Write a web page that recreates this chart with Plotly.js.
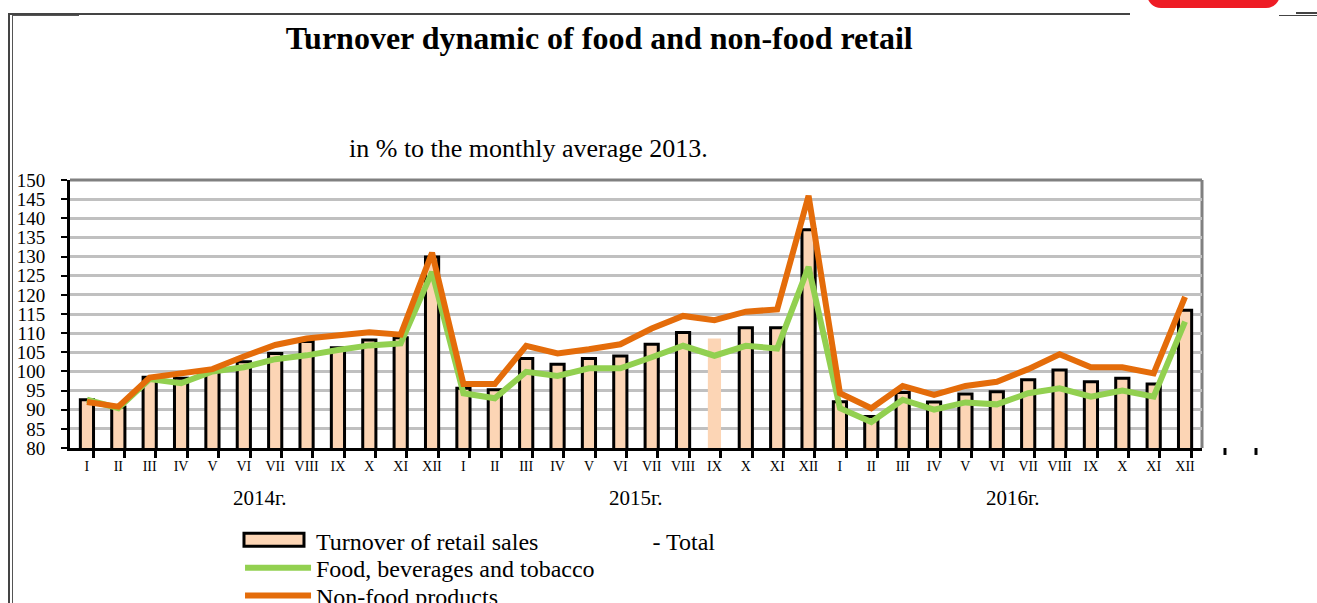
<!DOCTYPE html>
<html>
<head>
<meta charset="utf-8">
<script src="https://cdn.plot.ly/plotly-3.0.1.min.js"></script>
<style>
  html, body { margin: 0; padding: 0; background: #fff; }
  #chart { position: absolute; left: 0; top: 0; width: 1317px; height: 603px; }
  .deco { position: absolute; pointer-events: none; z-index: 10; }
</style>
</head>
<body>
<div id="chart"></div>
<div class="deco" style="left:8px;top:13px;width:2px;height:600px;background:#444;"></div>
<div class="deco" style="left:12px;top:15px;width:1px;height:600px;background:#555;"></div>
<div class="deco" style="left:8px;top:13px;width:1122px;height:2px;background:#444;"></div>
<div class="deco" style="left:12px;top:15px;width:67px;height:1px;background:#555;"></div>
<div class="deco" style="left:1279px;top:15px;width:38px;height:1px;background:#444;"></div>
<div class="deco" style="left:1296px;top:12px;width:21px;height:2px;background:#444;"></div>
<div class="deco" style="left:1147px;top:-20px;width:133px;height:28px;background:#EE1C25;border-radius:14px;"></div>
<script>
// ---- data ----
const months = ["I","II","III","IV","V","VI","VII","VIII","IX","X","XI","XII",
                "I","II","III","IV","V","VI","VII","VIII","IX","X","XI","XII",
                "I","II","III","IV","V","VI","VII","VIII","IX","X","XI","XII"];
const years = ["2014г.", "2015г.", "2016г."];

const totalTurnover = [
  92.6, 90.7, 98.5, 98.2, 100.0, 102.5, 104.7, 107.8, 106.2, 108.2, 108.8, 129.9,
  95.6, 95.2, 103.4, 101.9, 103.4, 104.0, 107.1, 110.2, 108.6, 111.4, 111.4, 137.0,
  92.1, 88.2, 94.5, 92.0, 94.1, 94.7, 97.8, 100.4, 97.3, 98.2, 96.7, 116.0
];
const foodBeverages = [
  92.6, 90.4, 98.0, 96.9, 100.0, 101.1, 103.2, 104.2, 105.6, 106.8, 107.3, 126.0,
  94.3, 93.0, 99.9, 98.8, 100.8, 100.8, 103.7, 106.7, 104.1, 106.7, 106.0, 127.3,
  90.4, 86.8, 92.6, 90.0, 91.9, 91.4, 94.3, 95.6, 93.4, 95.0, 93.4, 113.0
];
const nonFood = [
  92.0, 90.8, 98.4, 99.5, 100.6, 103.9, 106.9, 108.6, 109.3, 110.2, 109.6, 131.0,
  96.7, 96.7, 106.7, 104.7, 105.8, 107.1, 111.2, 114.5, 113.4, 115.6, 116.2, 145.9,
  94.3, 90.4, 96.2, 93.9, 96.2, 97.3, 100.6, 104.5, 101.1, 101.1, 99.5, 119.5
];
const seriesNames = ["Turnover of retail sales" + "\u00A0".repeat(19) + "- Total",
                     "Food, beverages and tobacco",
                     "Non-food products"];

// ---- build ----
const idx = months.map((m, i) => i);
const barOutline = months.map((m, i) => (i === 20 ? 0 : 3)); // IX 2015 drawn without outline

const serif = "'Liberation Serif', 'Times New Roman', serif";
const barFill = "#FCD5B5";

const traces = [
  {
    type: "bar", x: idx, y: totalTurnover, name: seriesNames[0], width: 0.42,
    marker: { color: barFill, line: { color: "#000", width: barOutline } },
    showlegend: false
  },
  // legend entry for the bars; its wide key box is drawn as a shape below
  {
    type: "scatter", mode: "lines", x: [null], y: [null], name: seriesNames[0],
    line: { color: "rgba(0,0,0,0)", width: 0 }, legend: "legend", showlegend: true,
    hoverinfo: "skip"
  },
  {
    type: "scatter", mode: "lines", x: idx, y: foodBeverages, name: seriesNames[1],
    line: { color: "#92D050", width: 6 }, legend: "legend2"
  },
  {
    type: "scatter", mode: "lines", x: idx, y: nonFood, name: seriesNames[2],
    line: { color: "#E46C0A", width: 6 }, legend: "legend3"
  }
];

const annotations = years.map((y, k) => ({
  text: y, xref: "x", yref: "paper", x: 5.5 + 12 * k, y: -0.187,
  xanchor: "center", yanchor: "middle", showarrow: false,
  font: { family: serif, size: 21, color: "#000" }
}));
annotations.push({
  text: "in % to the monthly average 2013.", xref: "paper", yref: "paper",
  x: 0.4046, y: 1.119, xanchor: "center", yanchor: "middle", showarrow: false,
  font: { family: serif, size: 26, color: "#000" }
});

function legendAt(yPaper) {
  return {
    x: 0.1502, y: yPaper, xanchor: "left", yanchor: "middle",
    orientation: "v", itemwidth: 66,
    font: { family: serif, size: 24, color: "#000" },
    bgcolor: "rgba(0,0,0,0)", borderwidth: 0
  };
}

const layout = {
  width: 1317, height: 603,
  margin: { l: 70, r: 115, t: 180, b: 155, pad: 0, autoexpand: false },
  paper_bgcolor: "#fff", plot_bgcolor: "#fff",
  font: { family: serif, color: "#000" },
  title: {
    text: "<b>Turnover dynamic of food and non-food retail</b>",
    xref: "container", yref: "container", x: 0.455, y: 0.937,
    xanchor: "center", yanchor: "middle",
    font: { family: serif, size: 32, color: "#000" }
  },
  showlegend: true,
  legend: legendAt(-0.347),
  legend2: legendAt(-0.448),
  legend3: legendAt(-0.552),
  xaxis: {
    range: [-0.54, 35.54], fixedrange: true,
    tickmode: "array", tickvals: idx, ticktext: months,
    ticks: "", showgrid: false, zeroline: false,
    tickfont: { family: serif, size: 14, color: "#000" },
    ticklabelstandoff: 3,
    showline: true, linecolor: "#000", linewidth: 3,
    minor: { tickmode: "linear", tick0: 0.2, dtick: 1, ticks: "outside",
             ticklen: 7, tickwidth: 3, tickcolor: "#000", showgrid: false }
  },
  yaxis: {
    range: [80, 150], fixedrange: true,
    tickmode: "linear", tick0: 80, dtick: 5,
    ticks: "outside", ticklen: 6, tickwidth: 2, tickcolor: "#000",
    tickfont: { family: serif, size: 19, color: "#000" },
    ticklabelstandoff: 12,
    showgrid: true, gridcolor: "#C0C0C0", gridwidth: 3,
    zeroline: false,
    showline: true, linecolor: "#000", linewidth: 3
  },
  annotations: annotations,
  shapes: [
    { type: "line", xref: "paper", yref: "paper", x0: 0, x1: 1, y0: 1, y1: 1,
      line: { color: "#808080", width: 3 }, layer: "below" },
    { type: "line", xref: "paper", yref: "paper", x0: 1, x1: 1, y0: 0, y1: 1,
      line: { color: "#808080", width: 3 }, layer: "below" },
    { type: "line", xref: "paper", yref: "paper", x0: 1.0203, x1: 1.0203, y0: 0, y1: -0.026,
      line: { color: "#000", width: 3 } },
    { type: "line", xref: "paper", yref: "paper", x0: 1.0477, x1: 1.0477, y0: 0, y1: -0.026,
      line: { color: "#000", width: 3 } },
    // legend key box for the bar series
    { type: "rect", xref: "paper", yref: "paper", x0: 0.1537, x1: 0.2067, y0: -0.318, y1: -0.367,
      fillcolor: barFill, line: { color: "#000", width: 3 }, layer: "above" }
  ]
};

Plotly.newPlot("chart", traces, layout, { displayModeBar: false, staticPlot: true });
</script>
</body>
</html>
